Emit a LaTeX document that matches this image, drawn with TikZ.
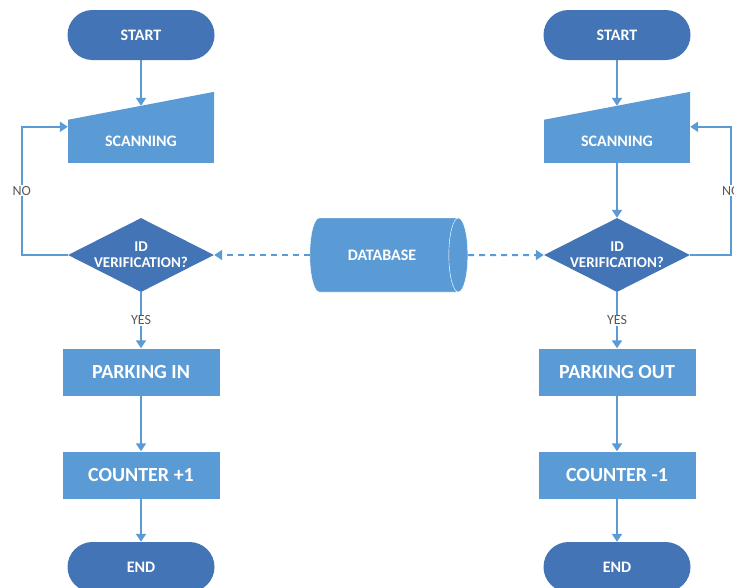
\documentclass[tikz,border=0pt]{standalone}
\usepackage{fontspec}
\setmainfont{Carlito}
\usetikzlibrary{shapes.geometric,arrows.meta,calc}
\definecolor{darkblue}{HTML}{4374B6}
\definecolor{lightblue}{HTML}{5B9BD5}
\definecolor{labelgray}{HTML}{595959}

\begin{document}
\begin{tikzpicture}[x=1pt,y=-1pt,
  terminal/.style={rectangle, rounded corners=25pt, fill=darkblue, minimum width=147pt, minimum height=50pt, text=white, font=\bfseries\fontsize{16}{16}\selectfont},
  process/.style={rectangle, fill=lightblue, minimum width=157pt, minimum height=47pt, text=white, font=\bfseries\fontsize{20}{20}\selectfont},
  scanbox/.style={rectangle, fill=lightblue, minimum width=146pt, minimum height=43pt, text=white, font=\bfseries\fontsize{16}{16}\selectfont},
  decide/.style={diamond, fill=darkblue, minimum width=146pt, minimum height=74pt, inner sep=0pt},
  dtext/.style={text=white, align=center, font=\bfseries\fontsize{15}{16}\selectfont},
  store/.style={cylinder, cylinder uses custom fill, cylinder body fill=lightblue, cylinder end fill=lightblue, draw=white, thin, aspect=1.1, minimum width=74pt, minimum height=158pt, text=white, font=\bfseries\fontsize{16}{16}\selectfont},
  flow/.style={draw=lightblue, line width=2pt, -{Triangle[width=10pt,length=8pt]}},
  dflow/.style={flow, dash pattern=on 6pt off 5pt},
  lbl/.style={fill=white, text=labelgray, inner sep=1pt, font=\fontsize{14}{14}\selectfont}]
\useasboundingbox (0,0) rectangle (734,587);
\clip (0,0) rectangle (734,587);

% left: parking in
\node[terminal] (startL) at (141,35) {START};
\node[scanbox] (scanL) at (141,141.5) {SCANNING};
\fill[lightblue] (scanL.north west) -- (scanL.north east) -- ++(0,-28) -- cycle;
\coordinate (scanLtop) at ($(scanL.north)+(0,-14)$);
\coordinate (scanLin) at ($(scanL.north west)+(0,7)$);
\node[decide] (idL) at (141,255) {};
\node[dtext] (idLtxt) at (idL) {ID\\VERIFICATION?};
\node[process] (parkL) at (141,372) {PARKING IN};
\node[process] (cntL) at (141,475) {COUNTER +1};
\node[terminal] (endL) at (141,567) {END};

% right: parking out
\node[terminal] (startR) at (617,35) {START};
\node[scanbox] (scanR) at (617,141.5) {SCANNING};
\fill[lightblue] (scanR.north west) -- (scanR.north east) -- ++(0,-28) -- cycle;
\coordinate (scanRtop) at ($(scanR.north)+(0,-14)$);
\coordinate (scanRin) at ($(scanR.north east)+(0,7)$);
\node[decide] (idR) at (617,255) {};
\node[dtext] (idRtxt) at (idR) {ID\\VERIFICATION?};
\node[process] (parkR) at (617,372) {PARKING OUT};
\node[process] (cntR) at (617,475) {COUNTER -1};
\node[terminal] (endR) at (617,567) {END};

% database
\node[store] (db) at (382,255) {DATABASE};

\draw[flow] (startL) -- (scanLtop);
\draw[flow] (idL.west) -- ++(-46,0) |- (scanLin) node[pos=0.25, lbl] {NO};
\draw[flow] (idL) -- (parkL) node[midway, lbl] {YES};
\draw[flow] (parkL) -- (cntL);
\draw[flow] (cntL) -- (endL);

\draw[flow] (startR) -- (scanRtop);
\draw[flow] (scanR) -- (idR);
\draw[flow] (idR.east) -- ++(41,0) |- (scanRin) node[pos=0.25, lbl] {NO};
\draw[flow] (idR) -- (parkR) node[midway, lbl] {YES};
\draw[flow] (parkR) -- (cntR);
\draw[flow] (cntR) -- (endR);

\draw[dflow] (db.west) -- (idL.east);
\draw[dflow] (db.east) -- (idR.west);
\end{tikzpicture}
\end{document}
